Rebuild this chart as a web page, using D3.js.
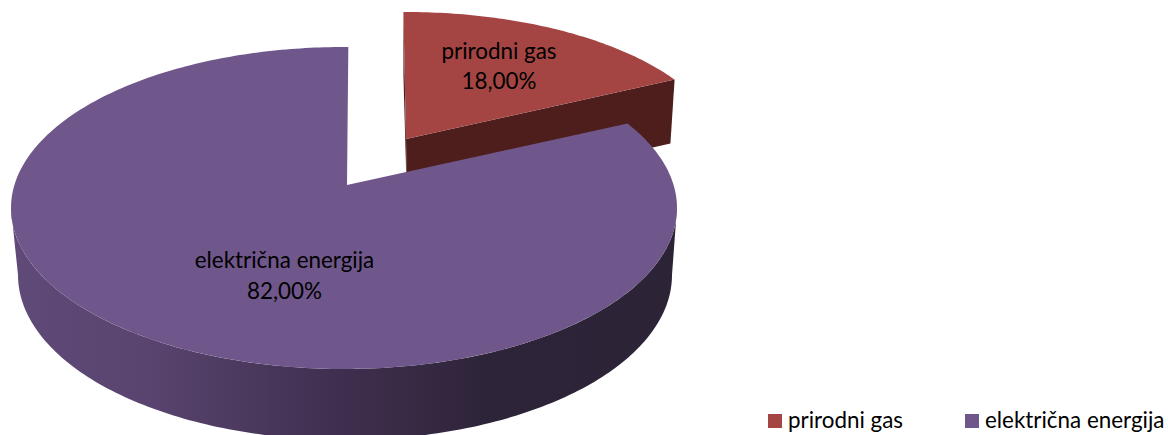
<!DOCTYPE html>
<html>
<head>
<meta charset="utf-8">
<title>Pie</title>
<script src="https://d3js.org/d3.v7.min.js"></script>
<style>
  html, body { margin: 0; padding: 0; background: #fff; overflow: hidden; }
  text { font-family: Lato, "Open Sans", sans-serif; fill: #000; }
</style>
</head>
<body>
<div id="chart"></div>
<script>
const categories = ["prirodni gas", "električna energija"];
const values = [18, 82];
const valueLabels = ["18,00%", "82,00%"];

const colors = ["#a54543", "#70578b"];
const redWall = "#4d1e1c";
const wallStops = [
  [18, "#5f4a78"], [150, "#58446e"], [333, "#402f50"], [400, "#392b46"], [483, "#2e2439"], [672, "#2c2337"]
];

const width = 1168, height = 435;
const persp = -0.143; // 3d pie is not a plain ellipse, the centre sits higher

const svg = d3.select("#chart").append("svg")
  .attr("width", width)
  .attr("height", height)
  .style("display", "block");

const defs = svg.append("defs");
const grad = defs.append("linearGradient")
  .attr("id", "wall")
  .attr("gradientUnits", "userSpaceOnUse")
  .attr("x1", wallStops[0][0]).attr("x2", wallStops[wallStops.length - 1][0])
  .attr("y1", 0).attr("y2", 0);
grad.selectAll("stop").data(wallStops).join("stop")
  .attr("offset", d => (d[0] - 18) / (672 - 18))
  .attr("stop-color", d => d[1]);

const pie = d3.pie().sort(null).value(d => d);
const slices = pie(values);
const line = d3.line();

// angle on the flat disc -> screen point on the tilted ellipse
function project(e, angle) {
  const u = Math.sin(angle + e.rot), v = -Math.cos(angle + e.rot);
  const k = 1 + persp * v;
  return [
    e.cx + e.rx * u * Math.sqrt(1 - persp * persp) / k,
    e.cy + e.ry * (v + persp) / k
  ];
}

function arcPoints(e, a0, a1) {
  const n = Math.ceil(Math.abs(a1 - a0) * 60);
  return d3.range(n + 1).map(i => project(e, a0 + (a1 - a0) * i / n));
}

// ellipses: main pie and the pulled-out slice, top and bottom faces
const mainTop = {cx: 344, cy: 208, rx: 333, ry: 161, rot: 0.015};
const mainBottom = {cx: 345, cy: 275, rx: 327, ry: 165, rot: 0.015};
const mainApex = [347, 185];
const sliceTop = {cx: 406, cy: 160, rx: 320, ry: 148, rot: -0.0094};
const sliceBottom = {cx: 406, cy: 224, rx: 315, ry: 148, rot: -0.0094};
const sliceApex = [406, 139], sliceApexLow = [407, 203];

const red = slices[0], purple = slices[1];

// red slice walls
svg.append("path")
  .attr("fill", redWall)
  .attr("d", line([project(sliceTop, red.startAngle), sliceApex, sliceApexLow, project(sliceBottom, red.startAngle)]) + "Z");
svg.append("path")
  .attr("fill", redWall)
  .attr("d", line([sliceApex, project(sliceTop, red.endAngle), project(sliceBottom, red.endAngle), sliceApexLow]) + "Z");
svg.append("path")
  .attr("fill", colors[0])
  .attr("d", line([sliceApex, ...arcPoints(sliceTop, red.startAngle, red.endAngle)]) + "Z");

// purple outer wall, between the silhouette points of the ellipse
const sideA = Math.acos(persp) - mainTop.rot, sideB = 2 * Math.PI - Math.acos(persp) - mainTop.rot;
svg.append("path")
  .attr("fill", "url(#wall)")
  .attr("d", line([...arcPoints(mainTop, sideA, sideB), ...arcPoints(mainBottom, sideB, sideA)]) + "Z");
svg.append("path")
  .attr("fill", colors[1])
  .attr("d", line([mainApex, ...arcPoints(mainTop, purple.startAngle, purple.endAngle)]) + "Z");

// data labels
const labelPos = [[499, 59, 89], [284.5, 268, 299]];
const fontSize = 22.4;
categories.forEach((c, i) => {
  const t = svg.append("text").attr("text-anchor", "middle").style("font-size", fontSize + "px");
  t.append("tspan").attr("x", labelPos[i][0]).attr("y", labelPos[i][1]).text(c);
  t.append("tspan").attr("x", labelPos[i][0]).attr("y", labelPos[i][2]).text(valueLabels[i]);
});

// legend
const legendX = [768, 965];
const legend = svg.selectAll("g.legend").data(categories).join("g")
  .attr("class", "legend")
  .attr("transform", (d, i) => "translate(" + legendX[i] + ",414)");
legend.append("rect")
  .attr("width", 14).attr("height", 14)
  .attr("fill", (d, i) => colors[i]);
legend.append("text")
  .attr("x", 20).attr("y", 14)
  .style("font-size", fontSize + "px")
  .text(d => d);
</script>
</body>
</html>
